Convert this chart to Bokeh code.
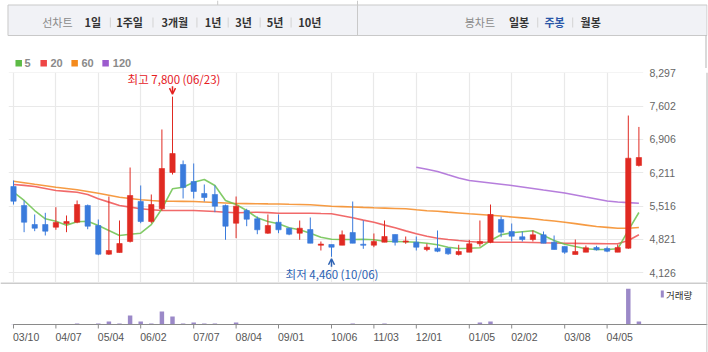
import numpy as np
from bokeh.plotting import figure
from bokeh.models import Range1d, FixedTicker, Grid, Arrow, OpenHead, ColumnDataSource
from bokeh.layouts import column, row
from bokeh.embed import file_html
from bokeh.resources import INLINE
from bokeh.core.properties import value

# ---------------- data (weekly candles, index 0 = week of 03/10) ----------------
week_idx = list(range(60))
opens = [5926, 5530, 5133, 5133, 5077, 5154, 5181, 5530, 5112, 4514,
         4549, 4779, 5613, 5196, 5461, 6218, 6385, 6030, 5780, 5759,
         5530, 5160, 5425, 5252, 4952, 5181, 5056, 4952, 5029, 4700,
         4716, 4702, 4966, 4722, 4702, 4764, 4925, 4766, 4764, 4612,
         4639, 4639, 4508, 4556, 4731, 4764, 5238, 4987, 4877, 4820,
         4918, 4764, 4674, 4508, 4556, 4654, 4633, 4556, 4639, 6364]
highs = [6051, 5634, 5342, 5377, 5494, 5321, 5634, 5550, 5238, 5717,
         5217, 6322, 5947, 5759, 7115, 7800, 6468, 6406, 5968, 5947,
         5550, 5717, 5461, 5300, 5342, 5342, 5070, 5217, 5279, 4779,
         4716, 5008, 5613, 5217, 4946, 5217, 4925, 4883, 4883, 4731,
         5008, 4639, 4710, 4814, 5217, 5550, 5300, 5154, 4987, 5008,
         4987, 4904, 4674, 4820, 4695, 4689, 4674, 4716, 7406, 7168]
lows = [5550, 4973, 4994, 4904, 5023, 4973, 5160, 5035, 4493, 4500,
        4549, 4758, 5160, 5160, 5425, 6176, 5676, 5676, 5613, 5390,
        4814, 4848, 5098, 4931, 4940, 4952, 4910, 4814, 4743, 4591,
        4460, 4702, 4743, 4626, 4660, 4764, 4695, 4731, 4591, 4576,
        4556, 4501, 4487, 4556, 4674, 4743, 4869, 4779, 4779, 4779,
        4743, 4612, 4522, 4508, 4556, 4591, 4556, 4556, 4627, 6343]
closes = [5619, 5181, 5056, 4994, 5175, 5196, 5550, 5098, 4514, 4591,
          4737, 5738, 5196, 5550, 6301, 6614, 5905, 5822, 5697, 5515,
          5098, 5515, 5244, 5023, 5112, 5023, 4931, 5056, 4743, 4725,
          4660, 4918, 4743, 4700, 4779, 4883, 4764, 4790, 4660, 4660,
          4576, 4522, 4570, 4731, 4779, 5342, 4973, 4889, 4820, 4918,
          4743, 4612, 4556, 4570, 4647, 4606, 4576, 4654, 6516, 6530]
volumes = [8000, 6000, 5000, 9000, 12000, 10000, 42000, 15000, 45000, 118000,
           40000, 360000, 120000, 40000, 520000, 320000, 44000, 80000, 40000, 42000,
           18000, 80000, 12000, 9000, 11000, 8000, 7000, 10000, 9000, 6000,
           12000, 10000, 40000, 16000, 14000, 42000, 9000, 7000, 8000, 6000,
           9000, 7000, 8000, 20000, 80000, 120000, 18000, 14000, 9000, 10000,
           12000, 8000, 9000, 6000, 7000, 5000, 8000, 20000, 1430000, 120000]
ma5 = [5807, 5634, 5425, 5252, 5200, 5120, 5190, 5202, 5112, 5008,
       4905, 4930, 4952, 5130, 5461, 5878, 5911, 6015, 6072, 5947,
       5634, 5550, 5425, 5273, 5196, 5148, 5064, 5022, 4952, 4868,
       4826, 4820, 4820, 4826, 4814, 4785, 4779, 4772, 4764, 4743,
       4710, 4660, 4633, 4639, 4647, 4800, 4918, 4960, 4981, 5002,
       4904, 4800, 4722, 4674, 4627, 4612, 4612, 4627, 5010, 5384]
ma20 = [5967, 5950, 5926, 5885, 5843, 5825, 5807, 5759, 5669, 5600,
        5530, 5495, 5461, 5440, 5425, 5425, 5425, 5425, 5415, 5404,
        5390, 5377, 5385, 5390, 5380, 5369, 5369, 5369, 5369, 5362,
        5356, 5315, 5273, 5225, 5181, 5120, 5064, 5000, 4939, 4890,
        4848, 4822, 4800, 4780, 4764, 4764, 4764, 4764, 4764, 4758,
        4752, 4748, 4743, 4740, 4737, 4735, 4733, 4731, 4800, 4918]
ma60 = [6036, 6005, 5973, 5942, 5911, 5884, 5857, 5822, 5786, 5745,
        5703, 5676, 5648, 5633, 5619, 5617, 5615, 5613, 5603, 5592,
        5582, 5571, 5568, 5566, 5563, 5561, 5555, 5550, 5544, 5530,
        5515, 5507, 5499, 5490, 5482, 5475, 5468, 5461, 5440, 5420,
        5411, 5392, 5374, 5356, 5341, 5326, 5310, 5291, 5272, 5252,
        5228, 5205, 5181, 5151, 5121, 5092, 5074, 5056, 5056, 5071]
ma120 = [np.nan] * 38 + [6328, 6285, 6240, 6170, 6103, 6051, 6025, 5999, 5973, 5947,
                         5916, 5885, 5853, 5822, 5790, 5748, 5706, 5665, 5623, 5603,
                         5590, 5578]

x_tick_idx = [0, 4, 8, 12, 17, 21, 25, 30, 34, 38, 43, 47, 52, 56]
x_tick_labels = ["03/10", "04/07", "05/04", "06/02", "07/07", "08/04", "09/01",
                 "10/06", "11/03", "12/01", "01/05", "02/02", "03/08", "04/05"]
y_ticks = [4126, 4821, 5516, 6211, 6906, 7602, 8297]
y_tick_labels = ["4,126", "4,821", "5,516", "6,211", "6,906", "7,602", "8,297"]

high_idx, high_val, high_date = 15, 7800, "06/23"
low_idx, low_val, low_date = 30, 4460, "10/06"

ma_names = ["5", "20", "60", "120"]
range_items = ["1일", "1주일", "3개월", "1년", "3년", "5년", "10년"]
candle_items = ["일봉", "주봉", "월봉"]

# ---------------- styles ----------------
UP = "#e02a22"
DOWN = "#3a7bdc"
MA_COLORS = ["#6cc24c", "#ef5050", "#f58a22", "#a967d6"]
LEG_COLORS = ["#5dbb46", "#ee4646", "#f48a1c", "#9c5bce"]
GRID = "#e9e9e9"
KR = value("Noto Sans CJK KR")
LAT = value("Liberation Sans")

PX = 10.6                                   # pixels per week
PPX = (8297 - 4126) / 200.0                 # price units per pixel
VS = 40000                                  # volume units per pixel

# ---------------- header ----------------
hdr = figure(width=708, height=68, x_range=Range1d(0, 708), y_range=Range1d(68, 0),
             min_border=0, x_axis_location=None, y_axis_location=None,
             toolbar_location=None, output_backend="svg", outline_line_color=None)
hdr.grid.visible = False
hdr.quad(left=7.5, right=707.5, top=4.5, bottom=35, fill_color="#f1f2f6", line_color="#c9c9c9")
hdr.segment(x0=[357.5, 217.5], y0=[0, 0], x1=[357.5, 217.5], y1=[35, 4.5], line_color="#c9c9c9")
hdr.segment(x0=706.5, y0=35, x1=706.5, y1=68, line_color="#b5b5b5")
hdr.text(x=[57, 480], y=[21.5, 21.5], text=["선차트", "봉차트"], text_align="center",
         text_baseline="middle", text_font=KR, text_font_size="11px", text_color="#8a8a8a")
hdr.text(x=[92.5, 129.3, 174.5, 212.8, 243.3, 275, 309.8], y=[21.5] * 7, text=range_items,
         text_align="center", text_baseline="middle", text_font=KR, text_font_size="11px",
         text_font_style="bold", text_color="#333333")
hdr.text(x=[519.3, 554.8, 591], y=[21.5] * 3, text=candle_items, text_align="center",
         text_baseline="middle", text_font=KR, text_font_size="11px", text_font_style="bold",
         text_color=["#333333", "#2a56a8", "#333333"])
seps = [110, 152.7, 196.7, 228, 260, 291, 538, 573]
hdr.segment(x0=seps, y0=[17] * len(seps), x1=seps, y1=[27] * len(seps), line_color="#d3d3d3")
leg_x = [15, 40, 71, 102]
leg_tx = [24, 50, 81, 112.5]
hdr.quad(left=leg_x, right=[v + 6.5 for v in leg_x], top=[59.5] * 4, bottom=[66] * 4,
         fill_color=LEG_COLORS, line_color=None)
hdr.text(x=leg_tx, y=[62.8] * 4, text=ma_names, text_align="left", text_baseline="middle",
         text_font=LAT, text_font_size="11px", text_font_style="bold", text_color="#8a8a8a")

# ---------------- main price chart ----------------
main = figure(width=700, height=214,
              x_range=Range1d(-5 / PX, -5 / PX + 635 / PX),
              y_range=Range1d(4126 - 9.7 * PPX, 8297 + 0.3 * PPX),
              min_border_left=8, min_border_right=57, min_border_top=4, min_border_bottom=0,
              x_axis_location=None, y_axis_location="right",
              toolbar_location=None, output_backend="svg", outline_line_color=None)
ax = main.yaxis[0]
ax.ticker = FixedTicker(ticks=y_ticks)
ax.major_label_overrides = {t: l for t, l in zip(y_ticks, y_tick_labels)}
ax.axis_line_color = None
ax.major_tick_line_color = None
ax.minor_tick_line_color = None
ax.major_tick_out = 0
ax.major_tick_in = 0
ax.major_label_standoff = 6
ax.major_label_text_font = "Liberation Sans"
ax.major_label_text_font_size = "10.5px"
ax.major_label_text_color = "#666666"
main.ygrid.grid_line_color = GRID
main.ygrid.grid_line_width = 1.2
for g in main.xgrid:
    g.visible = False
main.add_layout(Grid(dimension=0, ticker=FixedTicker(ticks=x_tick_idx),
                     grid_line_color=GRID, grid_line_width=1.2))

for vals, col in zip([ma120, ma60, ma20, ma5], MA_COLORS[::-1]):
    main.line(week_idx, vals, line_color=col, line_width=1.6, line_alpha=0.85)

colors = [UP if c >= o else DOWN for o, c in zip(opens, closes)]
src = ColumnDataSource(dict(x=week_idx, o=opens, h=highs, l=lows, c=closes,
                            top=[max(o, c) for o, c in zip(opens, closes)],
                            bot=[min(o, c) for o, c in zip(opens, closes)],
                            color=colors))
main.segment(x0="x", y0="l", x1="x", y1="h", line_color="color", line_width=1, source=src)
main.vbar(x="x", top="top", bottom="bot", width=0.5, fill_color="color",
          line_color="color", line_width=0.6, source=src)

main.text(x=[high_idx], y=[high_val], text=[f"최고 {high_val:,} ({high_date})"],
          x_offset=1.5, y_offset=-18, text_align="center", text_baseline="middle",
          text_font=KR, text_font_size="11.5px", text_color="#e5201f")
main.add_layout(Arrow(end=OpenHead(size=6, line_color="#e5201f", line_width=1.5),
                      x_start=high_idx, y_start=high_val + 10.5 * PPX,
                      x_end=high_idx, y_end=high_val + 2.5 * PPX,
                      line_color="#e5201f", line_width=1.5))
main.text(x=[low_idx], y=[low_val], text=[f"최저 {low_val:,} ({low_date})"],
          x_offset=0.5, y_offset=17, text_align="center", text_baseline="middle",
          text_font=KR, text_font_size="11.5px", text_color="#2c62b3")
main.add_layout(Arrow(end=OpenHead(size=6, line_color="#2c62b3", line_width=1.5),
                      x_start=low_idx, y_start=low_val - 10 * PPX,
                      x_end=low_idx, y_end=low_val - 2 * PPX,
                      line_color="#2c62b3", line_width=1.5))

strip = figure(width=8, height=214, x_range=Range1d(700, 708), y_range=Range1d(282, 68),
               min_border=0, x_axis_location=None, y_axis_location=None,
               toolbar_location=None, output_backend="svg", outline_line_color=None)
strip.grid.visible = False
strip.segment(x0=706.5, y0=68, x1=706.5, y1=282, line_color="#b5b5b5")

# ---------------- volume panel + date axis ----------------
x0v, x1v = -13 / PX, (707 - 13) / PX
vol = figure(width=708, height=70, x_range=Range1d(x0v, x1v), y_range=Range1d(-28 * VS, 42 * VS),
             min_border_left=0, min_border_right=1, min_border_top=0, min_border_bottom=0,
             x_axis_location=None, y_axis_location=None,
             toolbar_location=None, output_backend="svg", outline_line_color=None)
vol.grid.visible = False
vol.segment(x0=x0v, y0=41.5 * VS, x1=x1v, y1=41.5 * VS, line_color="#9a9a9a", line_width=1)
vol.vbar(x=week_idx, top=volumes, width=0.42, fill_color="#9b89c8", line_color=None)
vol.segment(x0=-0.03, y0=0, x1=x1v, y1=0, line_color="#8a8a8a", line_width=1)
vol.segment(x0=x_tick_idx, y0=[0] * len(x_tick_idx), x1=x_tick_idx, y1=[-4 * VS] * len(x_tick_idx),
            line_color="#8a8a8a", line_width=1)
vol.text(x=x_tick_idx, y=[-12 * VS] * len(x_tick_idx), text=x_tick_labels, x_offset=-0.5,
         text_align="left", text_baseline="middle", text_font=LAT, text_font_size="10.5px",
         text_color="#555555")
vol.quad(left=(660.3 - 13) / PX, right=(663.3 - 13) / PX, top=(324 - 290) * VS, bottom=(324 - 297) * VS,
         fill_color="#9b89c8", line_color=None)
vol.text(x=[(665.5 - 13) / PX], y=[(324 - 294) * VS], text=["거래량"], text_align="left",
         text_baseline="middle", text_font=KR, text_font_size="9.5px", text_color="#333333")
vol.segment(x0=(706.5 - 13) / PX, y0=-28 * VS, x1=(706.5 - 13) / PX, y1=42 * VS,
            line_color="#b5b5b5", line_width=1)

layout = column(hdr, row(main, strip), vol)
open("out.html", "w").write(file_html(layout, INLINE))
